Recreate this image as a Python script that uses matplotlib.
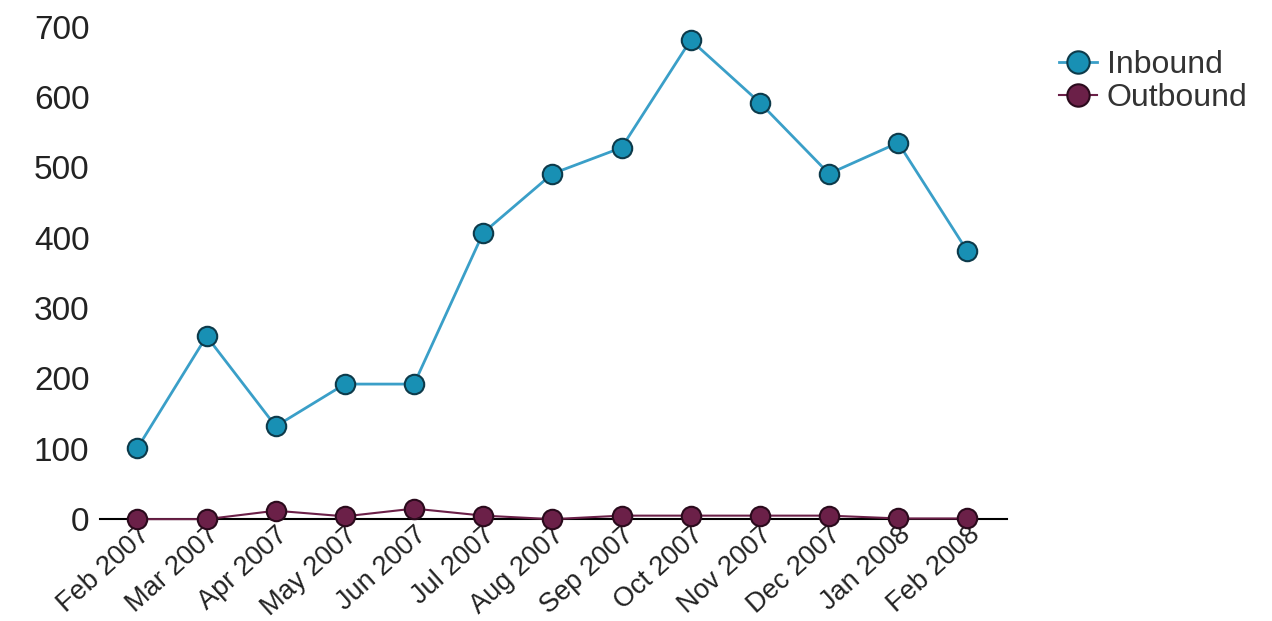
import matplotlib.pyplot as plt

months = ["Feb 2007", "Mar 2007", "Apr 2007", "May 2007", "Jun 2007", "Jul 2007",
          "Aug 2007", "Sep 2007", "Oct 2007", "Nov 2007", "Dec 2007", "Jan 2008", "Feb 2008"]
inbound = [101, 260, 132, 192, 192, 407, 491, 528, 681, 592, 491, 535, 381]
outbound = [0, 0, 12, 4, 15, 5, 0, 5, 5, 5, 5, 1, 1]
yticks = [0, 100, 200, 300, 400, 500, 600, 700]

plt.rcParams['font.family'] = ['Liberation Sans', 'DejaVu Sans']

fig = plt.figure(figsize=(12.72, 6.21), dpi=100)
ax = fig.add_axes([0.079, 0.164, 0.713, 0.793])

x = list(range(len(months)))
ax.plot(x, inbound, '-o', color='#3a9fc8', lw=2, ms=14, mfc='#1890b4',
        mec='#0d3a4a', mew=1.5, label='Inbound', clip_on=False, zorder=3)
ax.plot(x, outbound, '-o', color='#6b2048', lw=1.5, ms=14, mfc='#6b2048',
        mec='#2a0a1c', mew=1.5, label='Outbound', clip_on=False, zorder=3)

ax.set_xlim(-0.534, 12.58)
ax.set_ylim(0, 700)
ax.set_yticks(yticks)
ax.set_xticks(x)
ax.set_xticklabels(months, rotation=42, ha='right', rotation_mode='anchor')
ax.tick_params(axis='y', length=0, labelsize=24, colors='#222222', pad=8)
ax.tick_params(axis='x', length=0, labelsize=19.5, colors='#222222', pad=2)

for s in ['top', 'right', 'left']:
    ax.spines[s].set_visible(False)
ax.spines['bottom'].set_color('black')
ax.spines['bottom'].set_linewidth(1.5)

leg = fig.legend(loc='upper left', bbox_to_anchor=(0.82, 0.945), frameon=False,
                 fontsize=23, handlelength=1.2, handletextpad=0.3, labelspacing=0.1,
                 borderpad=0, markerscale=1.15)
for t in leg.get_texts():
    t.set_color('#333333')

plt.savefig('out.png', dpi=100)
